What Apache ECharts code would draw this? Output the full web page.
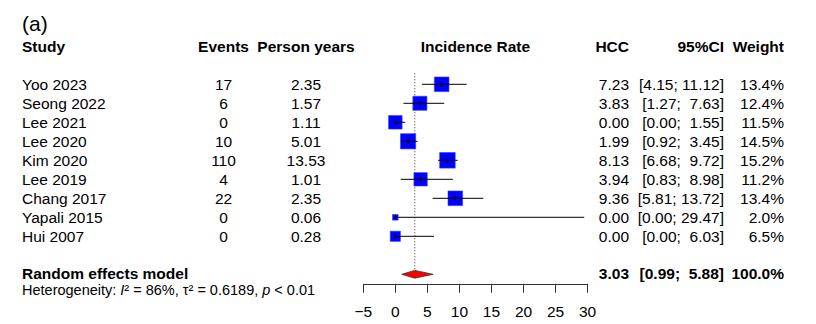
<!DOCTYPE html>
<html>
<head>
<meta charset="utf-8">
<script src="https://cdn.jsdelivr.net/npm/echarts@6/dist/echarts.min.js"></script>
<style>
html,body{margin:0;padding:0;background:#fff;}
#chart{width:816px;height:324px;}
</style>
</head>
<body>
<div id="chart"></div>
<script>
// ---- data ----
const studies = ['Yoo 2023','Seong 2022','Lee 2021','Lee 2020','Kim 2020','Lee 2019','Chang 2017','Yapali 2015','Hui 2007'];
const events = [17, 6, 0, 10, 110, 4, 22, 0, 0];
const personYears = [2.35, 1.57, 1.11, 5.01, 13.53, 1.01, 2.35, 0.06, 0.28];
const rates = [7.23, 3.83, 0.00, 1.99, 8.13, 3.94, 9.36, 0.00, 0.00];
const ciLow = [4.15, 1.27, 0.00, 0.92, 6.68, 0.83, 5.81, 0.00, 0.00];
const ciHigh = [11.12, 7.63, 1.55, 3.45, 9.72, 8.98, 13.72, 29.47, 6.03];
const weights = [13.4, 12.4, 11.5, 14.5, 15.2, 11.2, 13.4, 2.0, 6.5];
const pooledLabel = 'Random effects model';
const pooledRate = 3.03;
const pooledLow = 0.99;
const pooledHigh = 5.88;
const pooledWeight = 100.0;
const headers = ['Study', 'Events', 'Person years', 'Incidence Rate', 'HCC', '95%CI', 'Weight'];
const heterogeneityText = 'Heterogeneity: {i|I}² = 86%, τ² = 0.6189, {i|p} < 0.01';
const panelLabel = '(a)';
const xTickValues = [-5, 0, 5, 10, 15, 20, 25, 30];

// ---- layout (pixels / rows) ----
const FONT = '"Liberation Sans", Arial, sans-serif';
const FS = 15.5;
const COL = {study: 22, events: 223.5, py: 306, plot: 475.4, hcc: 629, ci: 724, weight: 784};
const HEADER_ROW = -2;
const POOLED_ROW = 10;
const POOLED_TEXT_ROW = 9.98;
const HET_ROW = 10.8;

function fmtCI(lo, hi) {
  return '[' + lo.toFixed(2) + '; ' + hi.toFixed(2).padStart(5, ' ') + ']';
}
function txt(x, y, s, align, bold, size) {
  const sz = size || FS;
  return {
    type: 'text', x: x, y: y, silent: true,
    style: {
      text: s, fill: '#000',
      fontSize: sz, fontFamily: FONT, fontWeight: bold ? 'bold' : 'normal',
      align: align, verticalAlign: 'middle'
    }
  };
}

const chart = echarts.init(document.getElementById('chart'), null, {renderer: 'svg'});

const option = {
  animation: false,
  backgroundColor: '#fff',
  title: {
    text: panelLabel, left: 22, top: 12, padding: 0,
    textStyle: {fontSize: 21, lineHeight: 22, fontWeight: 'normal', color: '#000', fontFamily: FONT}
  },
  grid: {left: 363.3, width: 224.3, top: 8.3, height: 275.5},
  xAxis: {
    type: 'value', min: -5, max: 30, interval: 5,
    axisLine: {show: true, onZero: false, lineStyle: {color: '#333', width: 1}},
    axisTick: {show: true, length: 9, lineStyle: {color: '#333', width: 1}},
    axisLabel: {
      show: true, margin: 20, fontSize: FS, color: '#000', fontFamily: FONT,
      formatter: v => (xTickValues.indexOf(v) >= 0 ? String(v).replace('-', '\u2212') : '')
    },
    splitLine: {show: false}
  },
  yAxis: {
    type: 'value', inverse: true, min: -4, max: 10.5,
    show: false, splitLine: {show: false}
  },
  series: [
    // dotted vertical reference at pooled estimate
    {
      type: 'custom', coordinateSystem: 'cartesian2d', clip: false, silent: true,
      data: [[pooledRate, POOLED_ROW]],
      renderItem: function (params, api) {
        const top = api.coord([api.value(0), -0.58]);
        const bot = api.coord([api.value(0), api.value(1)]);
        return {
          type: 'line',
          shape: {x1: top[0], y1: top[1], x2: bot[0], y2: bot[1] - 4},
          style: {stroke: '#333', lineWidth: 1, lineDash: [1, 2]}
        };
      }
    },
    // squares
    {
      type: 'custom', coordinateSystem: 'cartesian2d', clip: false, silent: true,
      data: rates.map((r, i) => [r, i, weights[i]]),
      encode: {x: 0, y: 1},
      renderItem: function (params, api) {
        const p = api.coord([api.value(0), api.value(1)]);
        const s = 4.0 * Math.sqrt(api.value(2));
        return {
          type: 'rect',
          shape: {x: p[0] - s / 2, y: p[1] - s / 2, width: s, height: s},
          style: {fill: '#0000ff', stroke: '#3a3aff', lineWidth: 0.6}
        };
      }
    },
    // CI lines + centre tick
    {
      type: 'custom', coordinateSystem: 'cartesian2d', clip: false, silent: true,
      data: rates.map((r, i) => [ciLow[i], ciHigh[i], i, r]),
      encode: {x: [0, 1], y: 2},
      renderItem: function (params, api) {
        const a = api.coord([api.value(0), api.value(2)]);
        const b = api.coord([api.value(1), api.value(2)]);
        const c = api.coord([api.value(3), api.value(2)]);
        return {
          type: 'group',
          children: [
            {type: 'line', shape: {x1: a[0], y1: a[1], x2: b[0], y2: b[1]}, style: {stroke: '#000', lineWidth: 1}},
            {type: 'line', shape: {x1: c[0], y1: c[1] - 2.5, x2: c[0], y2: c[1] + 2.5}, style: {stroke: '#000', lineWidth: 1}}
          ]
        };
      }
    },
    // pooled diamond
    {
      type: 'custom', coordinateSystem: 'cartesian2d', clip: false, silent: true,
      data: [[pooledLow, pooledRate, pooledHigh, POOLED_ROW]],
      encode: {x: [0, 2], y: 3},
      renderItem: function (params, api) {
        const row = api.value(3);
        const l = api.coord([api.value(0), row]);
        const m = api.coord([api.value(1), row]);
        const r = api.coord([api.value(2), row]);
        const h = 3.9;
        return {
          type: 'polygon',
          shape: {points: [[l[0], l[1]], [m[0], m[1] - h], [r[0], r[1]], [m[0], m[1] + h]]},
          style: {fill: '#ff0000', stroke: '#333', lineWidth: 0.8}
        };
      }
    },
    // table text for studies
    {
      type: 'custom', coordinateSystem: 'cartesian2d', clip: false, silent: true,
      data: studies.map((s, i) => [0, i]),
      encode: {x: 0, y: 1},
      renderItem: function (params, api) {
        const i = params.dataIndex;
        const y = api.coord([0, api.value(1)])[1];
        return {
          type: 'group',
          children: [
            txt(COL.study, y, studies[i], 'left'),
            txt(COL.events, y, String(events[i]), 'center'),
            txt(COL.py, y, personYears[i].toFixed(2), 'center'),
            txt(COL.hcc, y, rates[i].toFixed(2), 'right'),
            txt(COL.ci, y, fmtCI(ciLow[i], ciHigh[i]), 'right'),
            txt(COL.weight, y, weights[i].toFixed(1) + '%', 'right')
          ]
        };
      }
    },
    // headers, pooled row, heterogeneity
    {
      type: 'custom', coordinateSystem: 'cartesian2d', clip: false, silent: true,
      data: [[0, HEADER_ROW]],
      encode: {x: 0, y: 1},
      renderItem: function (params, api) {
        const yh = api.coord([0, HEADER_ROW])[1];
        const yp = api.coord([0, POOLED_TEXT_ROW])[1];
        const yhet = api.coord([0, HET_ROW])[1];
        return {
          type: 'group',
          children: [
            txt(COL.study, yh, headers[0], 'left', true),
            txt(COL.events, yh, headers[1], 'center', true),
            txt(COL.py, yh, headers[2], 'center', true),
            txt(COL.plot, yh, headers[3], 'center', true),
            txt(COL.hcc, yh, headers[4], 'right', true),
            txt(COL.ci, yh, headers[5], 'right', true),
            txt(COL.weight, yh, headers[6], 'right', true),
            txt(COL.study, yp, pooledLabel, 'left', true),
            txt(COL.hcc, yp, pooledRate.toFixed(2), 'right', true),
            txt(COL.ci, yp, fmtCI(pooledLow, pooledHigh), 'right', true),
            txt(COL.weight, yp, pooledWeight.toFixed(1) + '%', 'right', true),
            {
              type: 'text', x: COL.study, y: yhet, silent: true,
              style: {
                text: heterogeneityText, fill: '#000', fontSize: 14.5, fontFamily: FONT,
                align: 'left', verticalAlign: 'middle',
                rich: {i: {fontStyle: 'italic', fontSize: 14.5, fontFamily: FONT, fill: '#000'}}
              }
            }
          ]
        };
      }
    }
  ]
};
chart.setOption(option);
</script>
</body>
</html>
